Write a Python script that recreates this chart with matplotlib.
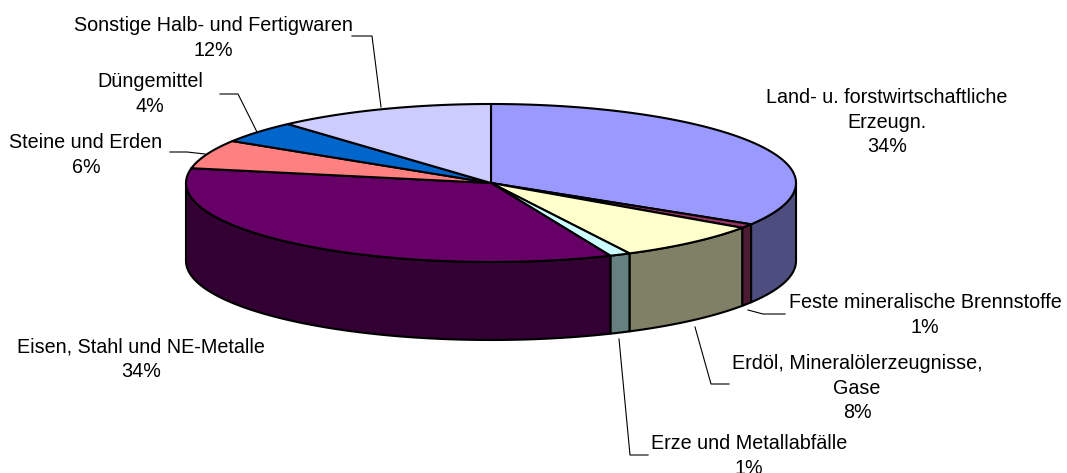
import numpy as np
import matplotlib
matplotlib.use("Agg")
import matplotlib.pyplot as plt
from matplotlib.colors import to_rgb
from matplotlib.patches import Polygon

categories = [
    "Land- u. forstwirtschaftliche\nErzeugn.",
    "Feste mineralische Brennstoffe",
    "Erdöl, Mineralölerzeugnisse,\nGase",
    "Erze und Metallabfälle",
    "Eisen, Stahl und NE-Metalle",
    "Steine und Erden",
    "Düngemittel",
    "Sonstige Halb- und Fertigwaren",
]
values = [33.75, 0.85, 7.9, 1.1, 34.4, 5.9, 4.5, 11.6]
colors = ["#9999FF", "#993366", "#FFFFCC", "#CCFFFF", "#660066", "#FF8080", "#0066CC", "#CCCCFF"]

# label centre (x, y) in pixels, same order as categories
label_pos = [(887, 122), (925, 315), (857, 388), (749, 456), (141, 359), (86, 155), (150, 94), (213, 38)]
# leader lines, None where the picture has none
leaders = [
    None,
    [(748, 310), (763, 314), (785, 314)],
    [(695, 327), (711, 384), (729, 384)],
    [(619, 339), (630, 455), (648, 455)],
    None,
    [(205, 154), (187, 152), (170, 152)],
    [(257, 132), (238, 94), (220, 94)],
    [(381, 107), (372, 36), (352, 36)],
]

cx, cy = 491, 183
rx, ry = 305, 79
depth = 78


def ell(theta):
    # theta in degrees, clockwise from the top
    t = np.radians(theta)
    return cx + rx * np.sin(t), cy - ry * np.cos(t)


plt.rcParams["font.family"] = ["Liberation Sans", "DejaVu Sans"]
fig = plt.figure(figsize=(10.67, 4.73), dpi=100)
ax = fig.add_axes([0, 0, 1, 1])
ax.set_xlim(0, 1067)
ax.set_ylim(473, 0)
ax.axis("off")

edges = np.cumsum([0] + values) / sum(values) * 360

# rim first, only the part facing the viewer
for i, c in enumerate(colors):
    a = max(edges[i], 90)
    b = min(edges[i + 1], 270)
    if b <= a:
        continue
    th = np.linspace(a, b, 80)
    x, y = ell(th)
    pts = np.r_[np.c_[x, y], np.c_[x, y + depth][::-1]]
    dark = tuple(v * 0.5 for v in to_rgb(c))
    ax.add_patch(Polygon(pts, closed=True, fc=dark, ec="black", lw=1.5, joinstyle="round", zorder=2))

# top face
for i, c in enumerate(colors):
    th = np.linspace(edges[i], edges[i + 1], 120)
    x, y = ell(th)
    pts = np.r_[[[cx, cy]], np.c_[x, y]]
    ax.add_patch(Polygon(pts, closed=True, fc=c, ec="black", lw=1.5, joinstyle="round", zorder=3))

for i, name in enumerate(categories):
    lx, ly = label_pos[i]
    ax.text(lx, ly, f"{name}\n{values[i]:.0f}%", ha="center", va="center", fontsize=14.2,
            linespacing=1.36, color="black", zorder=5)
    if leaders[i] is not None:
        ax.plot(*zip(*leaders[i]), color="black", lw=0.8, zorder=1)

fig.savefig("out.png", dpi=100)
